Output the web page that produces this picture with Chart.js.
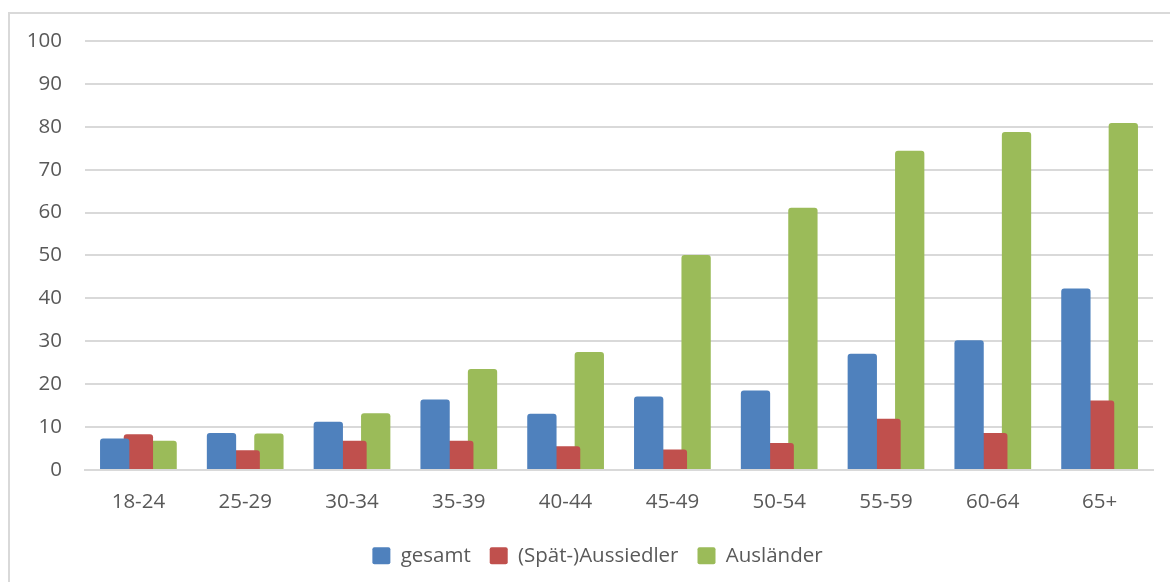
<!DOCTYPE html>
<html>
<head>
<meta charset="utf-8">
<script src="https://cdn.jsdelivr.net/npm/chart.js@4/dist/chart.umd.min.js"></script>
<style>
  html, body { margin: 0; padding: 0; background: #fff; }
  #wrap { position: relative; width: 1170px; height: 582px; }
  #frame {
    position: absolute; left: 8px; top: 12px; right: -10px; bottom: -10px;
    border-left: 2px solid #d9d9d9; border-top: 2px solid #d9d9d9;
    pointer-events: none;
  }
</style>
</head>
<body>
<div id="wrap">
  <canvas id="chart" width="1170" height="582"></canvas>
  <div id="frame"></div>
</div>
<script>
  // Altersgruppen und Anteile
  const ageGroups = ["18-24", "25-29", "30-34", "35-39", "40-44", "45-49", "50-54", "55-59", "60-64", "65+"];
  const gesamt = [7.3, 8.6, 11.2, 16.4, 13.1, 17.1, 18.5, 27.1, 30.2, 42.3];
  const spaetaussiedler = [8.3, 4.6, 6.8, 6.8, 5.5, 4.75, 6.3, 11.9, 8.6, 16.2];
  const auslaender = [6.8, 8.5, 13.2, 23.5, 27.5, 50.1, 61.1, 74.4, 78.8, 80.9];
  const yTicks = [0, 10, 20, 30, 40, 50, 60, 70, 80, 90, 100];

  const FONT = "'Open Sans', Lato, sans-serif";
  const TEXT = "#595959";
  const GRID = "#d9d9d9";

  function barSet(label, data, color) {
    return {
      label,
      data,
      backgroundColor: color,
      borderRadius: 3,
      borderSkipped: "start",
      categoryPercentage: 0.666,
      barPercentage: 1.236,
    };
  }

  // the original legend sits a bit right of the canvas centre
  const shiftLegend = {
    id: "shiftLegend",
    afterLayout(chart) {
      if (chart.legend) {
        chart.legend.left += 21;
        chart.legend.right += 21;
      }
    },
  };

  new Chart(document.getElementById("chart"), {
    type: "bar",
    data: {
      labels: ageGroups,
      datasets: [
        barSet("gesamt", gesamt, "#4f81bd"),
        barSet("(Spät-)Aussiedler", spaetaussiedler, "#c0504d"),
        barSet("Ausländer", auslaender, "#9bbb59"),
      ],
    },
    plugins: [shiftLegend],
    options: {
      responsive: false,
      animation: false,
      layout: { padding: { top: 41, right: 17, bottom: 6, left: 0 } },
      scales: {
        x: {
          z: 1,
          grid: { display: false },
          border: { color: GRID, width: 2 },
          ticks: { color: TEXT, font: { family: FONT, size: 20.5 }, padding: 12 },
        },
        y: {
          min: 0,
          max: 100,
          afterFit: (s) => { s.width = 85; },
          afterBuildTicks: (s) => { s.ticks = yTicks.map((v) => ({ value: v })); },
          grid: { color: GRID, lineWidth: 2, drawTicks: false },
          border: { display: false },
          ticks: { color: TEXT, font: { family: FONT, size: 20.5 }, padding: 23 },
        },
      },
      plugins: {
        tooltip: { enabled: false },
        legend: {
          position: "bottom",
          labels: {
            color: TEXT,
            font: { family: FONT, size: 20.5 },
            boxWidth: 18,
            boxHeight: 17,
            useBorderRadius: true,
            borderRadius: 2,
            padding: 19,
          },
        },
      },
    },
  });
</script>
</body>
</html>
